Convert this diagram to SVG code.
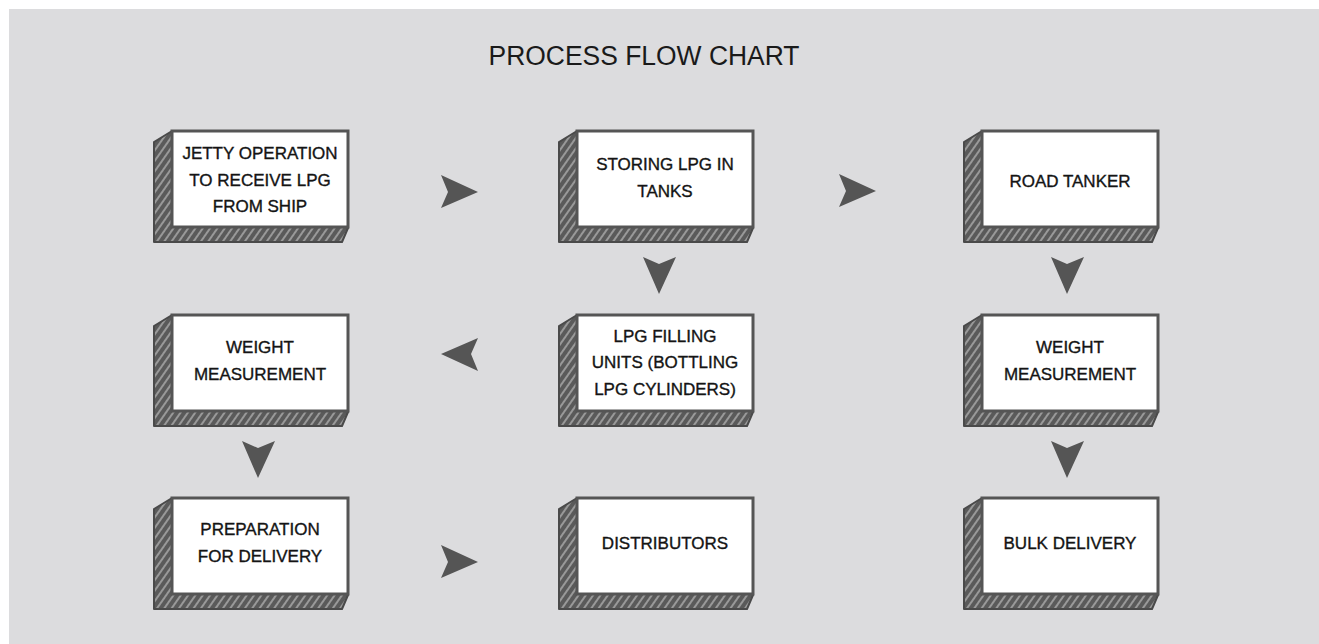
<svg xmlns="http://www.w3.org/2000/svg" xmlns:xlink="http://www.w3.org/1999/xlink" width="1319" height="644" viewBox="0 0 1319 644">
  <style>
    .bg { fill: #dcdcde; }
    .title { font-family: "Liberation Sans", Arial, sans-serif; font-size: 27px; fill: #1a1a1a; text-anchor: middle; }
    .lbl { font-family: "Liberation Sans", Arial, sans-serif; font-size: 17px; fill: #141414; stroke: #141414; stroke-width: 0.35; text-anchor: middle; }
    .face { fill: #ffffff; stroke: #555555; stroke-width: 3; }
    .side { fill: url(#hatch); stroke: #4a4a4a; stroke-width: 2; stroke-linejoin: round; }
    .arrow { fill: #555555; }
  </style>
  <defs>
    <!-- sketchy hatching used on the extruded sides of each block -->
    <pattern id="hatch" width="6" height="6" patternUnits="userSpaceOnUse" patternTransform="rotate(-55)">
      <rect width="6" height="6" fill="#5a5a5a"/>
      <line x1="0" y1="3" x2="6" y2="3" stroke="#b4b4b4" stroke-width="1.4"/>
    </pattern>
    <!-- 3D block: hatched extrusion behind a white front face (176 x 96) -->
    <g id="block">
      <polygon class="side" points="0,0 -18,11 -18,111 170,111 176,97 176,0"/>
      <rect class="face" x="0" y="0" width="176" height="96"/>
    </g>
    <!-- chevron arrowhead pointing right, origin at its tail centre -->
    <polygon id="chev" class="arrow" points="0,-17 37,0 0,16 7,0"/>
  </defs>

  <rect class="bg" x="9" y="9" width="1310" height="635"/>
  <text class="title" x="644" y="65" textLength="311" lengthAdjust="spacingAndGlyphs">PROCESS FLOW CHART</text>

  <g id="jetty" transform="translate(172,131)">
    <use href="#block"/>
    <text class="lbl" x="88" y="28">JETTY OPERATION</text>
    <text class="lbl" x="88" y="55">TO RECEIVE LPG</text>
    <text class="lbl" x="88" y="81">FROM SHIP</text>
  </g>
  <g id="storing" transform="translate(577,131)">
    <use href="#block"/>
    <text class="lbl" x="88" y="39">STORING LPG IN</text>
    <text class="lbl" x="88" y="66">TANKS</text>
  </g>
  <g id="road-tanker" transform="translate(982,131)">
    <use href="#block"/>
    <text class="lbl" x="88" y="56">ROAD TANKER</text>
  </g>

  <g id="weight-left" transform="translate(172,315)">
    <use href="#block"/>
    <text class="lbl" x="88" y="38">WEIGHT</text>
    <text class="lbl" x="88" y="65">MEASUREMENT</text>
  </g>
  <g id="filling" transform="translate(577,315)">
    <use href="#block"/>
    <text class="lbl" x="88" y="27">LPG FILLING</text>
    <text class="lbl" x="88" y="53">UNITS (BOTTLING</text>
    <text class="lbl" x="88" y="80">LPG CYLINDERS)</text>
  </g>
  <g id="weight-right" transform="translate(982,315)">
    <use href="#block"/>
    <text class="lbl" x="88" y="38">WEIGHT</text>
    <text class="lbl" x="88" y="65">MEASUREMENT</text>
  </g>

  <g id="preparation" transform="translate(172,498)">
    <use href="#block"/>
    <text class="lbl" x="88" y="37">PREPARATION</text>
    <text class="lbl" x="88" y="64">FOR DELIVERY</text>
  </g>
  <g id="distributors" transform="translate(577,498)">
    <use href="#block"/>
    <text class="lbl" x="88" y="51">DISTRIBUTORS</text>
  </g>
  <g id="bulk" transform="translate(982,498)">
    <use href="#block"/>
    <text class="lbl" x="88" y="51">BULK DELIVERY</text>
  </g>

  <g id="connectors">
    <use href="#chev" transform="translate(441,192)"/>
    <use href="#chev" transform="translate(839,191)"/>
    <use href="#chev" transform="translate(659,257) rotate(90)"/>
    <use href="#chev" transform="translate(1067,257) rotate(90)"/>
    <use href="#chev" transform="translate(478,354) rotate(180)"/>
    <use href="#chev" transform="translate(258,441) rotate(90)"/>
    <use href="#chev" transform="translate(1067,441) rotate(90)"/>
    <use href="#chev" transform="translate(441,562)"/>
  </g>
</svg>
